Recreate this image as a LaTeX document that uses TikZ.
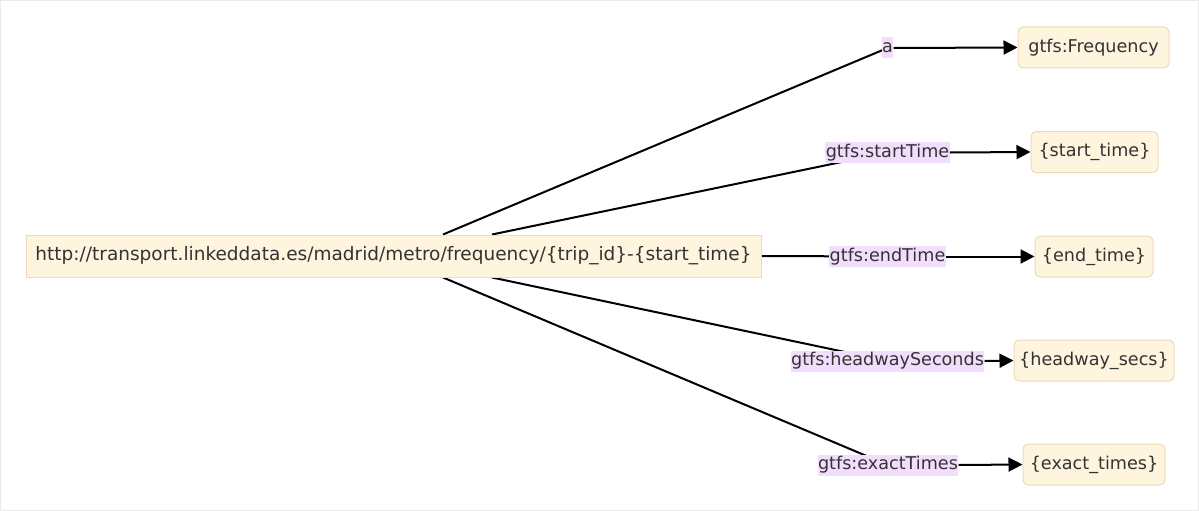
\documentclass[tikz,border=0pt]{standalone}
\usepackage{fontspec}
\setmainfont{DejaVu Sans}
\usetikzlibrary{arrows.meta,backgrounds}
\definecolor{nodefill}{RGB}{255,244,221}
\definecolor{nodedraw}{RGB}{236,220,180}
\definecolor{lblfill}{RGB}{243,221,252}
\definecolor{txt}{RGB}{51,51,51}
\definecolor{frame}{RGB}{235,235,235}
\tikzset{
  term/.style={draw=nodedraw, fill=nodefill, line width=1pt, rounded corners=5pt, text=txt,
    minimum height=41pt, inner xsep=2pt, font=\fontsize{17.6}{20}\selectfont},
  mainbox/.style={term, rounded corners=0pt, minimum height=42pt, minimum width=735pt,
    font=\fontsize{18.5}{21}\selectfont},
  lbl/.style={fill=lblfill, text=txt, inner xsep=0.5pt, inner ysep=0pt, minimum height=21pt,
    font=\fontsize{17.6}{20}\selectfont},
  link/.style={line width=2pt, black},
  arr/.style={line width=2pt, black, -{Triangle[length=14pt,width=14pt]}}
}
\begin{document}
\begin{tikzpicture}[x=1pt,y=-1pt]
\useasboundingbox (0,0) rectangle (1199,511);
\draw[frame, line width=1pt] (0.5,0.5) rectangle (1198.5,510.5);
\node[mainbox] (m) at (393.5,256) {http://transport.linkeddata.es/madrid/metro/frequency/\{trip\_id\}-\{start\_time\}};
\node[term, minimum width=151pt] (fq) at (1093.5,47.5) {gtfs:Frequency};
\node[term, minimum width=127pt] (st) at (1094.5,152) {\{start\_time\}};
\node[term, minimum width=118pt] (et) at (1094,256.5) {\{end\_time\}};
\node[term, minimum width=160pt] (hs) at (1094,360.5) {\{headway\_secs\}};
\node[term, minimum width=142pt] (ex) at (1094,464.5) {\{exact\_times\}};
\node[lbl] (la) at (887.5,48) {a};
\node[lbl] (ls) at (887.5,152.5) {gtfs:startTime};
\node[lbl] (le) at (887.5,256.5) {gtfs:endTime};
\node[lbl] (lh) at (887.5,361) {gtfs:headwaySeconds};
\node[lbl] (lx) at (888,465) {gtfs:exactTimes};
\begin{pgfonlayer}{background}
\draw[link] ([xshift=49.5pt]m.north) -- (la.center);
\draw[link] ([xshift=98.5pt]m.north) -- (ls.center);
\draw[link] (m.east) -- (le.center);
\draw[link] ([xshift=98.5pt]m.south) -- (lh.center);
\draw[link] ([xshift=49.5pt]m.south) -- (lx.center);
\end{pgfonlayer}
\draw[arr] (la.east) -- (fq.west);
\draw[arr] (ls.east) -- (st.west);
\draw[arr] (le.east) -- (et.west);
\draw[arr] (lh.east) -- (hs.west);
\draw[arr] (lx.east) -- (ex.west);
\end{tikzpicture}
\end{document}
